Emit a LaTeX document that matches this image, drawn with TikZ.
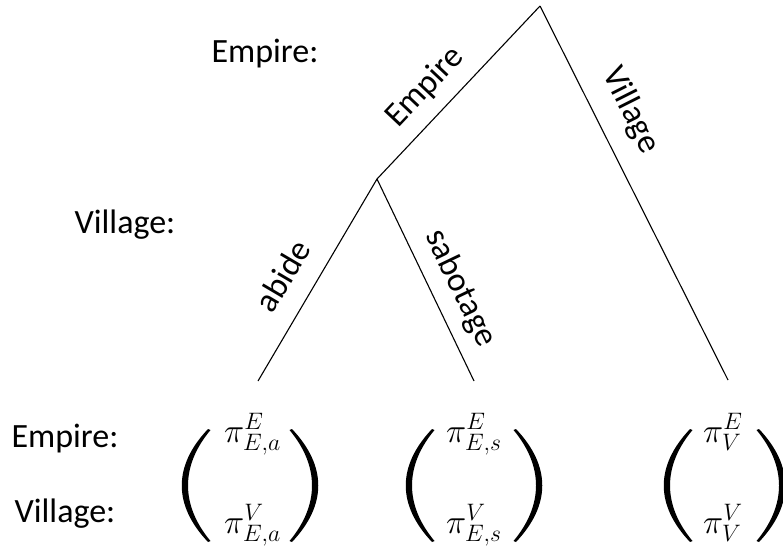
\RequirePackage{fix-cm}
\documentclass[tikz,border=0pt]{standalone}
\usepackage{amsmath}
\usepackage{fontspec}
\setmainfont{Carlito}
\begin{document}
\begin{tikzpicture}[x=1pt,y=-1pt,
  lbl/.style={font=\fontsize{34}{41}\selectfont, inner sep=0pt},
  slbl/.style={font=\fontsize{34}{41}\selectfont, sloped, above},
  edge/.style={line width=1.1pt, black},
  ent/.style={font=\fontsize{34}{41}\selectfont, inner sep=0pt, anchor=base west},
  lpar/.pic={\fill (0,0) .. controls (-35,37) and (-35,76) .. (0,113) -- (2.5,112) .. controls (-27.5,76) and (-27.5,37) .. (2.5,1) -- cycle;},
  rpar/.pic={\fill (0,0) .. controls (35,37) and (35,76) .. (0,113) -- (-2.5,112) .. controls (27.5,76) and (27.5,37) .. (-2.5,1) -- cycle;}]
\useasboundingbox (0,0) rectangle (783,551);
% player labels
\node[lbl, anchor=base] (pe1) at (265,62) {Empire:};
\node[lbl, anchor=base] (pv1) at (125,233) {Village:};
\node[lbl, anchor=base] (pe2) at (65,447) {Empire:};
\node[lbl, anchor=base] (pv2) at (65,522) {Village:};
% tree points
\coordinate (T) at (540,6);
\coordinate (N) at (377,179);
\coordinate (La) at (258,381);
\coordinate (Ls) at (474,381);
\coordinate (Lv) at (728,380);
% edges
\draw[edge] (N) -- node[slbl, pos=0.42, inner sep=13pt] {Empire} (T);
\draw[edge] (T) -- node[slbl, pos=0.32, inner sep=19pt] {Village} (Lv);
\draw[edge] (La) -- node[slbl, pos=0.44, inner sep=20pt] {abide} (N);
\draw[edge] (N) -- node[slbl, pos=0.6, inner sep=12.5pt] {sabotage} (Ls);
% payoffs
\node[ent] (ae) at (224,442) {$\pi^{E}_{E,a}$};
\node[ent] (av) at (224,533) {$\pi^{V}_{E,a}$};
\node[ent] (se) at (446,442) {$\pi^{E}_{E,s}$};
\node[ent] (sv) at (446,533) {$\pi^{V}_{E,s}$};
\node[ent] (ve) at (703,442) {$\pi^{E}_{V}$};
\node[ent] (vv) at (703,533) {$\pi^{V}_{V}$};
\pic at (208,429) {lpar};
\pic at (292,429) {rpar};
\pic at (432,429) {lpar};
\pic at (516,429) {rpar};
\pic at (690,429) {lpar};
\pic at (759,429) {rpar};
\end{tikzpicture}
\end{document}
